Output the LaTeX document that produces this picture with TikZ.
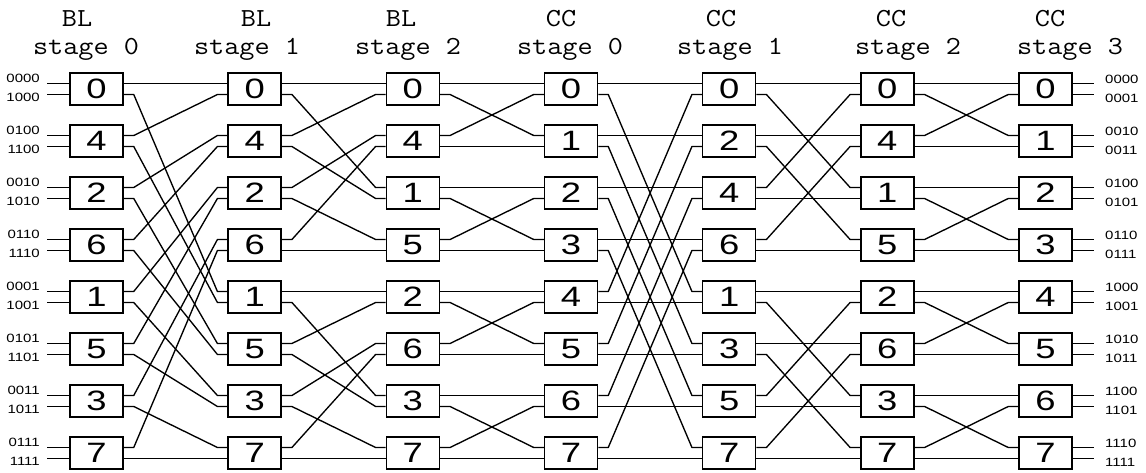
\documentclass[tikz,border=0pt]{standalone}
\usepackage{fontspec}
\newfontfamily\sansdigits{Liberation Sans}

% one wire: from output port #3 of box #2 in column #1
% to input port #5 of box #4 in column #1+1 (port 0 = upper, 1 = lower)
\newcommand\netwire[5]{%
  \pgfmathsetmacro\ya{5.5-11*#3}%
  \pgfmathsetmacro\yb{5.5-11*#5}%
  \pgfmathtruncatemacro\nc{#1+1}%
  \draw[netline] ([yshift=\ya pt]b#1-#2.east) -- ++(10pt,0)
     -- ([xshift=-10pt,yshift=\yb pt]b\nc-#4.west) -- ++(10pt,0);%
}

\tikzset{
  sw/.style={draw, line width=1.5pt, rectangle, minimum width=53pt,
    minimum height=32pt, inner sep=0pt,
    font=\sansdigits\fontsize{28}{28}\selectfont},
  netline/.style={line width=1.35pt, line join=round},
  hdr/.style={anchor=base, inner sep=0pt,
    font=\ttfamily\fontsize{26}{26}\selectfont},
  portlbl/.style={inner sep=0pt, font=\sansdigits\fontsize{12}{12}\selectfont}
}

\begin{document}
\begin{tikzpicture}[x=1pt,y=-1pt]
\useasboundingbox (0,0) rectangle (1146,473);

% stage headers
\foreach \i/\x/\t in {0/77/BL,1/256/BL,2/401/BL,3/561/CC,4/721/CC,5/891/CC,6/1050/CC}
  \node[hdr] (ht\i) at (\x,27) {\scalebox{1.13}[1]{\t}};
\foreach \i/\x/\n in {0/86/0,1/247/1,2/408/2,3/570/0,4/730/1,5/908/2,6/1070/3}
  \node[hdr] (hb\i) at (\x,55) {\scalebox{1.13}[1]{stage \n}};

% switch boxes, column by column
\foreach \l [count=\r from 0] in {0,4,2,6,1,5,3,7}
  \node[sw] (b0-\r) at ({96.5+158.17*0},{89+52*\r}) {\scalebox{1.3}[1]{\l}};
\foreach \l [count=\r from 0] in {0,4,2,6,1,5,3,7}
  \node[sw] (b1-\r) at ({96.5+158.17*1},{89+52*\r}) {\scalebox{1.3}[1]{\l}};
\foreach \l [count=\r from 0] in {0,4,1,5,2,6,3,7}
  \node[sw] (b2-\r) at ({96.5+158.17*2},{89+52*\r}) {\scalebox{1.3}[1]{\l}};
\foreach \l [count=\r from 0] in {0,1,2,3,4,5,6,7}
  \node[sw] (b3-\r) at ({96.5+158.17*3},{89+52*\r}) {\scalebox{1.3}[1]{\l}};
\foreach \l [count=\r from 0] in {0,2,4,6,1,3,5,7}
  \node[sw] (b4-\r) at ({96.5+158.17*4},{89+52*\r}) {\scalebox{1.3}[1]{\l}};
\foreach \l [count=\r from 0] in {0,4,1,5,2,6,3,7}
  \node[sw] (b5-\r) at ({96.5+158.17*5},{89+52*\r}) {\scalebox{1.3}[1]{\l}};
\foreach \l [count=\r from 0] in {0,1,2,3,4,5,6,7}
  \node[sw] (b6-\r) at ({96.5+158.17*6},{89+52*\r}) {\scalebox{1.3}[1]{\l}};

% BL stage 0 -> BL stage 1 (perfect shuffle)
\foreach \r/\p/\s/\q in {0/0/0/0,0/1/4/0,1/0/0/1,1/1/4/1,2/0/1/0,2/1/5/0,3/0/1/1,3/1/5/1,
                          4/0/2/0,4/1/6/0,5/0/2/1,5/1/6/1,6/0/3/0,6/1/7/0,7/0/3/1,7/1/7/1}
  {\netwire{0}{\r}{\p}{\s}{\q}}
% BL stage 1 -> BL stage 2 (shuffle within halves)
\foreach \r/\p/\s/\q in {0/0/0/0,0/1/2/0,1/0/0/1,1/1/2/1,2/0/1/0,2/1/3/0,3/0/1/1,3/1/3/1,
                          4/0/4/0,4/1/6/0,5/0/4/1,5/1/6/1,6/0/5/0,6/1/7/0,7/0/5/1,7/1/7/1}
  {\netwire{1}{\r}{\p}{\s}{\q}}
% BL stage 2 -> CC stage 0 (exchange with neighbour)
\foreach \r/\p/\s/\q in {0/0/0/0,0/1/1/0,1/0/0/1,1/1/1/1,2/0/2/0,2/1/3/0,3/0/2/1,3/1/3/1,
                          4/0/4/0,4/1/5/0,5/0/4/1,5/1/5/1,6/0/6/0,6/1/7/0,7/0/6/1,7/1/7/1}
  {\netwire{2}{\r}{\p}{\s}{\q}}
% CC stage 0 -> CC stage 1 (exchange at distance 4)
\foreach \r/\p/\s/\q in {0/0/0/0,0/1/4/0,1/0/1/0,1/1/5/0,2/0/2/0,2/1/6/0,3/0/3/0,3/1/7/0,
                          4/0/0/1,4/1/4/1,5/0/1/1,5/1/5/1,6/0/2/1,6/1/6/1,7/0/3/1,7/1/7/1}
  {\netwire{3}{\r}{\p}{\s}{\q}}
% CC stage 1 -> CC stage 2 (exchange at distance 2)
\foreach \r/\p/\s/\q in {0/0/0/0,0/1/2/0,1/0/1/0,1/1/3/0,2/0/0/1,2/1/2/1,3/0/1/1,3/1/3/1,
                          4/0/4/0,4/1/6/0,5/0/5/0,5/1/7/0,6/0/4/1,6/1/6/1,7/0/5/1,7/1/7/1}
  {\netwire{4}{\r}{\p}{\s}{\q}}
% CC stage 2 -> CC stage 3 (exchange with neighbour)
\foreach \r/\p/\s/\q in {0/0/0/0,0/1/1/0,1/0/0/1,1/1/1/1,2/0/2/0,2/1/3/0,3/0/2/1,3/1/3/1,
                          4/0/4/0,4/1/5/0,5/0/4/1,5/1/5/1,6/0/6/0,6/1/7/0,7/0/6/1,7/1/7/1}
  {\netwire{5}{\r}{\p}{\s}{\q}}

% network inputs
\foreach \r/\u/\d in {0/0000/1000,1/0100/1100,2/0010/1010,3/0110/1110,
                      4/0001/1001,5/0101/1101,6/0011/1011,7/0111/1111} {
  \draw[netline] ([yshift=5.5pt]b0-\r.west) -- ++(-22pt,0);
  \draw[netline] ([yshift=-5.5pt]b0-\r.west) -- ++(-22pt,0);
  \node[portlbl,anchor=east] (inu\r) at (40,{89+52*\r-10.5}) {\scalebox{1.25}[1]{\u}};
  \node[portlbl,anchor=east] (ind\r) at (40,{89+52*\r+8.5}) {\scalebox{1.25}[1]{\d}};
}

% network outputs
\foreach \r/\u/\d in {0/0000/0001,1/0010/0011,2/0100/0101,3/0110/0111,
                      4/1000/1001,5/1010/1011,6/1100/1101,7/1110/1111} {
  \draw[netline] ([yshift=5.5pt]b6-\r.east) -- ++(21pt,0);
  \draw[netline] ([yshift=-5.5pt]b6-\r.east) -- ++(21pt,0);
  \node[portlbl,anchor=west] (outu\r) at (1105,{89+52*\r-10}) {\scalebox{1.25}[1]{\u}};
  \node[portlbl,anchor=west] (outd\r) at (1105,{89+52*\r+9}) {\scalebox{1.25}[1]{\d}};
}
\end{tikzpicture}
\end{document}
